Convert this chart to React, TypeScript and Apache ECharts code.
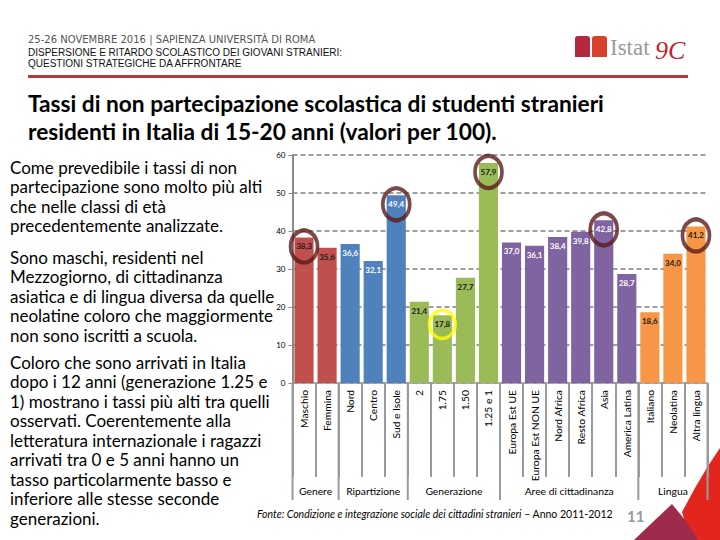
import React, { useEffect, useRef } from "react";
import * as echarts from "echarts";

const categories = [
  "Maschio", "Femmina",
  "Nord", "Centro", "Sud e Isole",
  "2", "1.75", "1.50", "1.25 e 1",
  "Europa Est UE", "Europa Est NON UE", "Nord Africa", "Resto Africa", "Asia", "America Latina",
  "Italiano", "Neolatina", "Altra lingua",
];
const values = [
  38.3, 35.6,
  36.6, 32.1, 49.4,
  21.4, 17.8, 27.7, 57.9,
  37.0, 36.1, 38.4, 39.8, 42.8, 28.7,
  18.6, 34.0, 41.2,
];
const groupNames = ["Genere", "Ripartizione", "Generazione", "Aree di cittadinanza", "Lingua"];
const groupSizes = [2, 3, 4, 6, 3];
const groupColors = ["#C0504D", "#4F81BD", "#9BBB59", "#8064A2", "#F79646"];
const groupLabelColors = ["#1a1a1a", "#ffffff", "#1a1a1a", "#ffffff", "#1a1a1a"];
const yTicks = [0, 10, 20, 30, 40, 50, 60];
const circledIdx = [0, 4, 8, 13, 17];
const yellowIdx = [6];

const leftParagraphs = [
  ["Come prevedibile i tassi di non", "partecipazione sono molto più alti", "che nelle classi di età", "precedentemente analizzate."],
  ["Sono maschi, residenti nel", "Mezzogiorno, di cittadinanza", "asiatica e di lingua diversa da quelle", "neolatine coloro che maggiormente", "non sono iscritti a scuola."],
  ["Coloro che sono arrivati in Italia", "dopo i 12 anni (generazione 1.25 e", "1) mostrano i tassi più alti tra quelli", "osservati. Coerentemente alla", "letteratura internazionale i ragazzi", "arrivati tra 0 e 5 anni hanno un", "tasso particolarmente basso e", "inferiore alle stesse seconde", "generazioni."],
];
const paragraphStarts = [167, 257, 362];
const lineStep = 19.5;

const FONT = "Lato, 'Noto Sans', sans-serif";

export default function App() {
  const ref = useRef<HTMLDivElement>(null);
  useEffect(() => {
    if (!ref.current) return;
    const chart = echarts.init(ref.current, undefined, { renderer: "svg" });

    const catGroup: number[] = [];
    const groupRanges: number[][] = [];
    let start = 0;
    groupSizes.forEach((n, g) => {
      for (let k = 0; k < n; k++) catGroup.push(g);
      groupRanges.push([start, start + n - 1, 0]);
      start += n;
    });

    const barData = values.map((v, i) => ({
      value: v,
      itemStyle: { color: groupColors[catGroup[i]] },
      label: { color: groupLabelColors[catGroup[i]] },
    }));

    const HFONT = "'Liberation Sans', Arial, sans-serif";
    const graphics: any[] = [];
    graphics.push(
      { type: "text", x: 28, y: 39, style: { text: "25-26 NOVEMBRE 2016 | SAPIENZA UNIVERSITÀ DI ROMA", fontSize: 10, fontFamily: "'DejaVu Sans', sans-serif", fill: "#555", verticalAlign: "middle" } },
      { type: "text", x: 28, y: 52, style: { text: "DISPERSIONE E RITARDO SCOLASTICO DEI GIOVANI STRANIERI:", fontSize: 10, fontFamily: HFONT, fill: "#111", verticalAlign: "middle" } },
      { type: "text", x: 28, y: 63, style: { text: "QUESTIONI STRATEGICHE DA AFFRONTARE", fontSize: 10, fontFamily: HFONT, fill: "#111", verticalAlign: "middle" } },
      { type: "rect", shape: { x: 28, y: 75, width: 660, height: 3 }, style: { fill: "#B3393C" } },
      { type: "rect", shape: { x: 575, y: 36, width: 15, height: 21, r: [3, 3, 0, 0] }, style: { fill: "#B42840" } },
      { type: "rect", shape: { x: 592, y: 36, width: 15, height: 21, r: [3, 3, 0, 0] }, style: { fill: "#D9402E" } },
      { type: "text", x: 610, y: 47, style: { text: "Istat", fontSize: 23, fontFamily: "'Liberation Serif', serif", fill: "#9a9a9a", verticalAlign: "middle" } },
      { type: "text", x: 655, y: 50, style: { text: "9C", fontSize: 26, fontFamily: "'Liberation Serif', serif", fontStyle: "italic", fill: "#C21F2F", verticalAlign: "middle" } },
      { type: "text", x: 28, y: 103, style: { text: "Tassi di non partecipazione scolastica di studenti stranieri", fontSize: 22.7, fontWeight: "bold", fontFamily: FONT, fill: "#000", verticalAlign: "middle" } },
      { type: "text", x: 28, y: 131, style: { text: "residenti in Italia di 15-20 anni (valori per 100).", fontSize: 22.7, fontWeight: "bold", fontFamily: FONT, fill: "#000", verticalAlign: "middle" } },
    );
    leftParagraphs.forEach((lines, p) => {
      lines.forEach((t, k) => {
        graphics.push({ type: "text", x: 10, y: paragraphStarts[p] + k * lineStep, style: { text: t, fontSize: 17, fontFamily: FONT, fill: "#000", verticalAlign: "middle" } });
      });
    });
    graphics.push(
      {
        type: "text", x: 257, y: 514,
        style: {
          text: "{i|Fonte: Condizione e integrazione sociale dei cittadini stranieri}{n| – Anno 2011-2012}",
          verticalAlign: "middle",
          fontWeight: "normal",
          rich: {
            i: { fontSize: 10.5, fontStyle: "italic", fontWeight: "normal", fontFamily: FONT, fill: "#000" },
            n: { fontSize: 10.5, fontWeight: "normal", fontFamily: FONT, fill: "#000" },
          },
        },
      },
      { type: "text", x: 627, y: 516, style: { text: "11", fontSize: 15, fontWeight: "bold", fontFamily: FONT, fill: "#9a9a9a", verticalAlign: "middle" } },
      { type: "polygon", shape: { points: [[720, 448], [708, 466], [695, 488], [682, 512], [690, 540], [720, 540]] }, style: { fill: "#E2261E" } },
      { type: "polygon", shape: { points: [[672, 504], [655, 520], [634, 540], [698, 540], [685, 520]] }, style: { fill: "#9E2B4C" } },
    );

    chart.setOption({
      animation: false,
      backgroundColor: "#ffffff",
      grid: { left: 292.5, top: 155, width: 415, height: 228, containLabel: false },
      xAxis: {
        type: "category",
        data: categories,
        axisLine: { lineStyle: { color: "#9a9a9a", width: 1.5 } },
        axisTick: { show: true, interval: 0, length: 94, lineStyle: { color: "#9a9a9a", width: 2 } },
        axisLabel: { interval: 0, rotate: 90, fontSize: 10.3, fontFamily: FONT, color: "#000", margin: 7 },
      },
      yAxis: {
        type: "value",
        min: 0,
        max: 60,
        interval: 10,
        axisLine: { show: true, lineStyle: { color: "#8a8a8a", width: 2 } },
        axisTick: { show: true, length: 4, lineStyle: { color: "#8a8a8a" } },
        axisLabel: { fontSize: 8, fontFamily: FONT, color: "#000", margin: 7, formatter: (v: number) => (yTicks.includes(v) ? String(v) : "") },
        splitLine: { show: true, lineStyle: { color: "#808080", width: 1.5, type: [5, 3] } },
      },
      series: [
        {
          type: "bar",
          data: barData,
          barCategoryGap: "17%",
          label: {
            show: true,
            position: "insideTop",
            distance: 5,
            fontSize: 8,
            fontWeight: "bold",
            fontFamily: FONT,
            formatter: (p: any) => Number(p.value).toFixed(1).replace(".", ","),
          },
          z: 2,
        },
        {
          type: "scatter",
          data: circledIdx.map((i) => [i, values[i]]),
          symbol: "circle",
          symbolSize: [27, 32],
          symbolOffset: [0, 9],
          itemStyle: { color: "rgba(0,0,0,0)", borderColor: "#5B1A1C", borderWidth: 4 },
          clip: false,
          silent: true,
          z: 5,
        },
        {
          type: "scatter",
          data: yellowIdx.map((i) => [i, values[i]]),
          symbol: "circle",
          symbolSize: [26, 28],
          symbolOffset: [0, 9],
          itemStyle: { color: "rgba(0,0,0,0)", borderColor: "#FFFF00", borderWidth: 3.5 },
          clip: false,
          silent: true,
          z: 5,
        },
        {
          type: "custom",
          data: groupRanges,
          encode: { x: [0, 1], y: 2 },
          clip: false,
          silent: true,
          renderItem: (params: any, api: any) => {
            const s = api.value(0);
            const e = api.value(1);
            const w = api.size([1, 0])[0];
            const p0 = api.coord([s, 0]);
            const p1 = api.coord([e, 0]);
            const xl = p0[0] - w / 2;
            const xr = p1[0] + w / 2;
            const y = p0[1];
            const children: any[] = [
              { type: "line", shape: { x1: xl, y1: y, x2: xl, y2: y + 117 }, style: { stroke: "#9a9a9a", lineWidth: 2 } },
              { type: "text", style: { text: groupNames[params.dataIndex], x: (xl + xr) / 2, y: y + 108, align: "center", verticalAlign: "middle", fontSize: 10.3, fontFamily: FONT, fill: "#000" } },
            ];
            if (params.dataIndex === groupNames.length - 1) {
              children.push({ type: "line", shape: { x1: xr, y1: y, x2: xr, y2: y + 117 }, style: { stroke: "#9a9a9a", lineWidth: 2 } });
            }
            return { type: "group", children };
          },
        },
      ],
      graphic: graphics,
    });
    return () => chart.dispose();
  }, []);
  return <div ref={ref} style={{ position: "absolute", left: 0, top: 0, width: 720, height: 540 }} />;
}
